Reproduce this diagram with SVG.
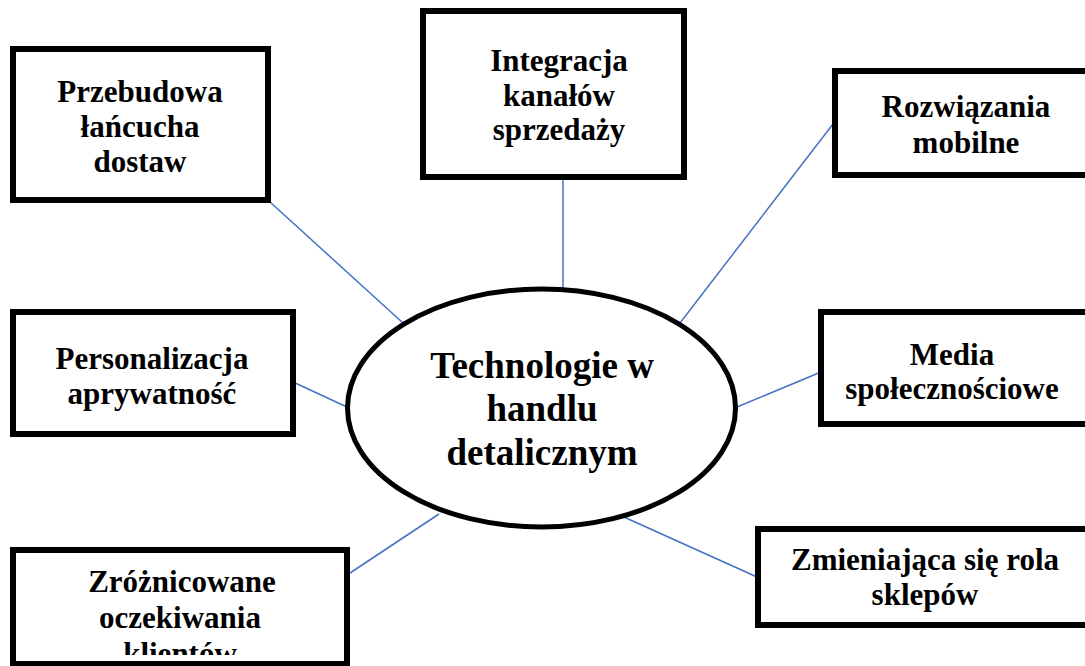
<svg xmlns="http://www.w3.org/2000/svg" width="1085" height="666" viewBox="0 0 1085 666">
<defs>
<style>
.box{fill:#fff;stroke:#000;stroke-width:6}
.t{font-family:"Liberation Serif","Times New Roman",serif;font-weight:bold;font-size:31px;fill:#000;text-anchor:middle}
.tc{font-size:37px}
.c{stroke:#4472C4;stroke-width:1.5;fill:none}
</style>
<clipPath id="clip6"><rect x="16" y="553" width="328" height="102"/></clipPath>
</defs>
<rect width="1085" height="666" fill="#fff"/>
<g id="connectors">
<line class="c" x1="270" y1="202" x2="403" y2="323"/>
<line class="c" x1="563" y1="180" x2="563" y2="288"/>
<line class="c" x1="833" y1="124" x2="680" y2="323"/>
<line class="c" x1="293" y1="382" x2="347" y2="407"/>
<line class="c" x1="821" y1="372" x2="737" y2="407"/>
<line class="c" x1="347" y1="575" x2="439" y2="514"/>
<line class="c" x1="757" y1="577" x2="615" y2="513"/>
</g>
<g id="center">
<ellipse cx="541.5" cy="408" rx="194" ry="119" fill="#fff" stroke="#000" stroke-width="5"/>
<text class="t tc" x="542" y="378">Technologie w</text>
<text class="t tc" x="542" y="421">handlu</text>
<text class="t tc" x="542" y="465">detalicznym</text>
</g>
<g id="n1">
<rect class="box" x="13" y="49" width="255" height="151"/>
<text class="t" x="140" y="102">Przebudowa</text>
<text class="t" x="140" y="137">łańcucha</text>
<text class="t" x="140" y="172">dostaw</text>
</g>
<g id="n2">
<rect class="box" x="423" y="11" width="261" height="166"/>
<text class="t" x="559" y="71">Integracja</text>
<text class="t" x="559" y="106">kanałów</text>
<text class="t" x="559" y="140">sprzedaży</text>
</g>
<g id="n3">
<rect class="box" x="835" y="71" width="260" height="104"/>
<text class="t" x="966" y="117">Rozwiązania</text>
<text class="t" x="966" y="153">mobilne</text>
</g>
<g id="n4">
<rect class="box" x="13" y="312" width="280" height="122"/>
<text class="t" x="152" y="369">Personalizacja</text>
<text class="t" x="152" y="404">aprywatność</text>
</g>
<g id="n5">
<rect class="box" x="821" y="312" width="275" height="112"/>
<text class="t" x="952" y="365">Media</text>
<text class="t" x="952" y="399">społecznościowe</text>
</g>
<g id="n6">
<rect class="box" x="13" y="550" width="334" height="114"/>
<g clip-path="url(#clip6)">
<text class="t" x="182" y="592">Zróżnicowane</text>
<text class="t" x="180" y="628">oczekiwania</text>
<text class="t" x="180" y="664">klientów</text>
</g>
</g>
<g id="n7">
<rect class="box" x="758" y="529" width="340" height="96"/>
<text class="t" x="925" y="570">Zmieniająca się rola</text>
<text class="t" x="925" y="605">sklepów</text>
</g>
</svg>
